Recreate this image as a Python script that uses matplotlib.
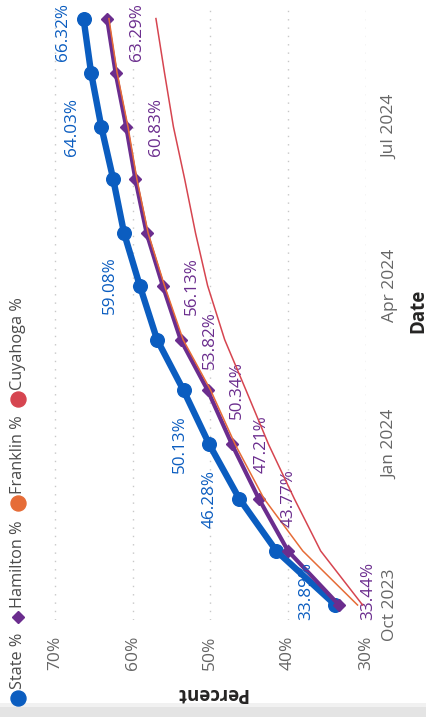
import matplotlib
matplotlib.use('Agg')
import matplotlib.pyplot as plt
import matplotlib.dates as mdates
from matplotlib.lines import Line2D
from matplotlib.patches import Rectangle
import pandas as pd

plt.rcParams['font.family'] = ['Open Sans', 'DejaVu Sans']

# monthly vaccination-style percentages
months = ['2023-10-01', '2023-11-01', '2023-12-01', '2024-01-01', '2024-02-01', '2024-03-01',
          '2024-04-01', '2024-05-01', '2024-06-01', '2024-07-01', '2024-08-01', '2024-09-01']
state = [33.89, 41.5, 46.28, 50.13, 53.45, 56.85, 59.08, 61.1, 62.5, 64.03, 65.35, 66.32]
hamilton = [33.44, 40.0, 43.77, 47.21, 50.34, 53.82, 56.13, 58.2, 59.65, 60.83, 62.2, 63.29]
franklin = [31.05, 38.1, 43.1, 46.8, 49.95, 53.5, 55.9, 58.0, 59.45, 60.6, 62.0, 63.05]
cuyahoga = [30.4, 35.8, 39.2, 42.5, 45.4, 48.15, 50.35, 51.9, 53.3, 54.75, 55.9, 57.0]
state_labels = [0, 2, 3, 6, 9, 11]
hamilton_labels = [0, 2, 3, 4, 5, 6, 9, 11]
legend_names = ['State %', 'Hamilton %', 'Franklin %', 'Cuyahoga %']
pct_ticks = [30, 40, 50, 60, 70]

dates = pd.to_datetime(months)

BLUE = '#0B5DC0'
PURPLE = '#6B2D8E'
ORANGE = '#E66C37'
RED = '#D64550'

W, H = 427, 717
fig = plt.figure(figsize=(W / 100, H / 100), dpi=100)
ax = fig.add_axes([39.4 / W, 1 - 620 / H, (365.7 - 39.4) / W, 613 / H])

ax.plot(state, dates, color=BLUE, lw=4.6, marker='o', ms=9.8, zorder=3)
ax.plot(hamilton, dates, color=PURPLE, lw=3, marker='D', ms=6.2, zorder=4)
ax.plot(franklin, dates, color=ORANGE, lw=1.1, zorder=5)
ax.plot(cuyahoga, dates, color=RED, lw=1.1, zorder=6)

ax.set_xlim(72, 30)
ax.set_ylim(mdates.date2num(pd.Timestamp('2023-09-22 10:00')),
            mdates.date2num(pd.Timestamp('2024-09-07 15:00')))

ax.set_xticks(pct_ticks)
ax.set_xticklabels([f'{t}%' for t in pct_ticks])
ax.tick_params(axis='x', length=0, pad=11, labelrotation=90, labelsize=12.5, labelcolor='#666666')

ax.yaxis.tick_right()
ax.yaxis.set_major_locator(mdates.MonthLocator(bymonth=[1, 4, 7, 10]))
ax.yaxis.set_major_formatter(mdates.DateFormatter('%b %Y'))
ax.tick_params(axis='y', length=0, pad=12, labelrotation=90, labelsize=12.5, labelcolor='#666666')
plt.setp(ax.get_yticklabels(), va='center')

ax.grid(axis='x', color='#C8C8C8', linestyle=(0, (1, 5)), linewidth=1)
ax.grid(axis='y', visible=False)
ax.set_axisbelow(True)
for s in ax.spines.values():
    s.set_visible(False)


def put_labels(vals, idx, color, dx):
    for i in idx:
        txt = f'{vals[i]:.2f}%'
        kw = dict(textcoords='offset pixels', rotation=90, ha='center', color=color,
                  fontsize=12.3, zorder=5)
        # keep labels from running past the left of the plot
        px = ax.transData.transform((vals[i], 0))[0]
        ddx = max(dx, 62.5 - px)
        if i == 0:
            ax.annotate(txt, xy=(vals[i], 0), xycoords=('data', 'axes fraction'),
                        xytext=(ddx, 0), va='bottom', **kw)
        elif i == len(vals) - 1:
            ax.annotate(txt, xy=(vals[i], 1), xycoords=('data', 'axes fraction'),
                        xytext=(ddx, 4), va='top', **kw)
        else:
            ax.annotate(txt, xy=(vals[i], dates[i]), xytext=(ddx, 0), va='center', **kw)


put_labels(state, state_labels, BLUE, -29.5)
put_labels(hamilton, hamilton_labels, PURPLE, 29.5)

fig.text(211 / W, 1 - 693 / H, 'Percent', rotation=180, ha='center', va='center',
         fontsize=13.5, fontweight='bold', color='#252423')
fig.text(418 / W, 1 - 311 / H, 'Date', rotation=90, ha='center', va='center',
         fontsize=13.5, fontweight='bold', color='#252423')

# legend drawn vertically along the left edge (marker centres, px from top)
markers = [('o', 10.8, BLUE), ('D', 6.6, PURPLE), ('o', 10.8, ORANGE), ('o', 10.8, RED)]
legend_y = [698, 617, 503, 399]
for name, (m, ms, c), yp in zip(legend_names, markers, legend_y):
    fig.add_artist(Line2D([18 / W], [1 - yp / H], transform=fig.transFigure, marker=m,
                          markersize=ms, color=c, linestyle='none'))
    fig.text(18 / W, 1 - (yp - 9) / H, name, rotation=90, ha='center', va='bottom',
             fontsize=11.7, color='#4A4A4A')

fig.add_artist(Rectangle((0, 0), 1, 10 / H, transform=fig.transFigure, color='#E4E4E4', lw=0))
fig.add_artist(Rectangle((0, 10 / H), 1, 4 / H, transform=fig.transFigure, color='#F1F1F1', lw=0))

fig.savefig('out.png', dpi=100)
